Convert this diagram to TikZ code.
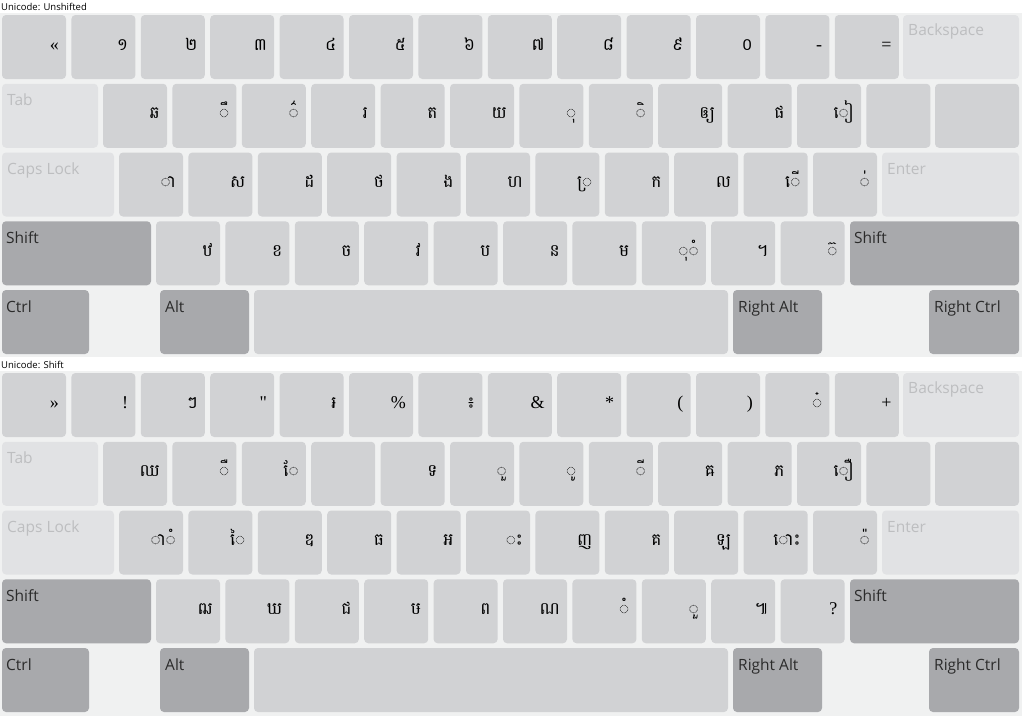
\documentclass[tikz,border=0pt]{standalone}
\usepackage{fontspec}
\setmainfont{Open Sans}
\newfontfamily\khfont[Script=Khmer]{Battambang}
\newfontfamily\latfont{Liberation Serif}
\usetikzlibrary{positioning}
\definecolor{KeyGray}{HTML}{D1D2D4}
\definecolor{KeyLight}{HTML}{E1E2E4}
\definecolor{KeyDark}{HTML}{A8A9AC}
\definecolor{PanelGray}{HTML}{F0F1F1}
\definecolor{LabelGray}{HTML}{BDBEC0}
\definecolor{LabelDark}{HTML}{2B2B2B}
\newcommand{\lat}{\latfont\fontsize{18}{18}\selectfont}
\tikzset{
  keycap/.style={fill=KeyGray, rounded corners=4pt},
  keylight/.style={fill=KeyLight, rounded corners=4pt},
  keydark/.style={fill=KeyDark, rounded corners=4pt},
  glyph/.style={anchor=base east, inner sep=0pt, font=\khfont\fontsize{17}{17}\selectfont},
  speclabel/.style={anchor=base west, inner sep=0pt, text=LabelGray, font=\fontsize{15.5}{16}\selectfont},
  modlabel/.style={anchor=base west, inner sep=0pt, text=LabelDark, font=\fontsize{15.5}{16}\selectfont},
  title/.style={anchor=west, inner sep=0pt, font=\fontsize{9.5}{10}\selectfont}
}
% one row of character keys: name prefix, left edge, top edge, glyphs
\newcommand{\keyrow}[4]{%
  \foreach \ch [count=\i from 0] in {#4}{
    \fill[keycap] ({#2+69.4*\i},#3) rectangle ++(64,64);
    \node[glyph] (#1-\i) at ({#2+69.4*\i+57},{#3+35}) {\ch};
  }}
% the keys that do not change between the two layers
\newcommand{\keyframe}[2]{%
  \fill[keylight] (903,#2) rectangle ++(116,64);
  \node[speclabel] (#1-bksp) at (908,{#2+20}) {Backspace};
  \fill[keylight] (2,{#2+68.75}) rectangle ++(96,64);
  \node[speclabel] (#1-tab) at (7,{#2+68.75+22}) {Tab};
  \fill[keycap] (935,{#2+68.75}) rectangle ++(84,64);
  \fill[keylight] (2,{#2+137.5}) rectangle ++(112,64);
  \node[speclabel] (#1-caps) at (7,{#2+137.5+22}) {Caps Lock};
  \fill[keylight] (882,{#2+137.5}) rectangle ++(137,64);
  \node[speclabel] (#1-enter) at (887,{#2+137.5+22}) {Enter};
  \fill[keydark] (2,{#2+206.25}) rectangle ++(149,64);
  \node[modlabel] (#1-lshift) at (6,{#2+206.25+22}) {Shift};
  \fill[keydark] (850,{#2+206.25}) rectangle ++(169,64);
  \node[modlabel] (#1-rshift) at (854,{#2+206.25+22}) {Shift};
  \fill[keydark] (2,{#2+275}) rectangle ++(87,64);
  \node[modlabel] (#1-ctrl) at (6,{#2+275+22}) {Ctrl};
  \fill[keydark] (160,{#2+275}) rectangle ++(89,64);
  \node[modlabel] (#1-alt) at (165,{#2+275+22}) {Alt};
  \fill[keycap] (254,{#2+275}) rectangle ++(474,64);
  \fill[keydark] (733,{#2+275}) rectangle ++(89,64);
  \node[modlabel] (#1-ralt) at (738,{#2+275+22}) {Right Alt};
  \fill[keydark] (929,{#2+275}) rectangle ++(90,64);
  \node[modlabel] (#1-rctrl) at (934,{#2+275+22}) {Right Ctrl};
}

\begin{document}
\begin{tikzpicture}[x=1pt, y=-1pt]
  \useasboundingbox (0,0) rectangle (1022,716);
  \fill[white] (0,0) rectangle (1022,716);
  \fill[PanelGray] (0,13) rectangle (1022,357);
  \fill[PanelGray] (0,371) rectangle (1022,716);

  % Unshifted layer
  \node[title] (titleU) at (1,6.5) {Unicode: Unshifted};
  \keyframe{u}{15}
  \keyrow{u1}{2}{15}{{\lat «},១,២,៣,៤,៥,៦,៧,៨,៩,០,{\lat -},{\lat =}}
  \keyrow{u2}{103}{83.75}{ឆ,◌ឹ,◌៌,រ,ត,យ,◌ុ,◌ិ,ឲ្យ,ផ,◌ៀ,{}}
  \keyrow{u3}{119}{152.5}{◌ា,ស,ដ,ថ,ង,ហ,◌្រ,ក,ល,◌ើ,◌់}
  \keyrow{u4}{156}{221.25}{ឋ,ខ,ច,វ,ប,ន,ម,◌ុ◌ំ,។,◌៊}

  % Shift layer
  \node[title] (titleS) at (1,364.5) {Unicode: Shift};
  \keyframe{s}{373}
  \keyrow{s1}{2}{373}{{\lat »},{\lat !},ៗ,{\lat "},៛,{\lat \%},៖,{\lat \&},{\lat *},{\lat (},{\lat )},◌៎,{\lat +}}
  \keyrow{s2}{103}{441.75}{ឈ,◌ឺ,◌ែ,{},ទ,◌ួ,◌ូ,◌ី,ឝ,ភ,◌ឿ,{}}
  \keyrow{s3}{119}{510.5}{◌ា◌ំ,◌ៃ,ឌ,ធ,អ,◌ះ,ញ,គ,ឡ,◌ោះ,◌៉}
  \keyrow{s4}{156}{579.25}{ឍ,ឃ,ជ,ឞ,ព,ណ,◌ំ,◌ួ,៕,{\lat ?}}
\end{tikzpicture}
\end{document}
